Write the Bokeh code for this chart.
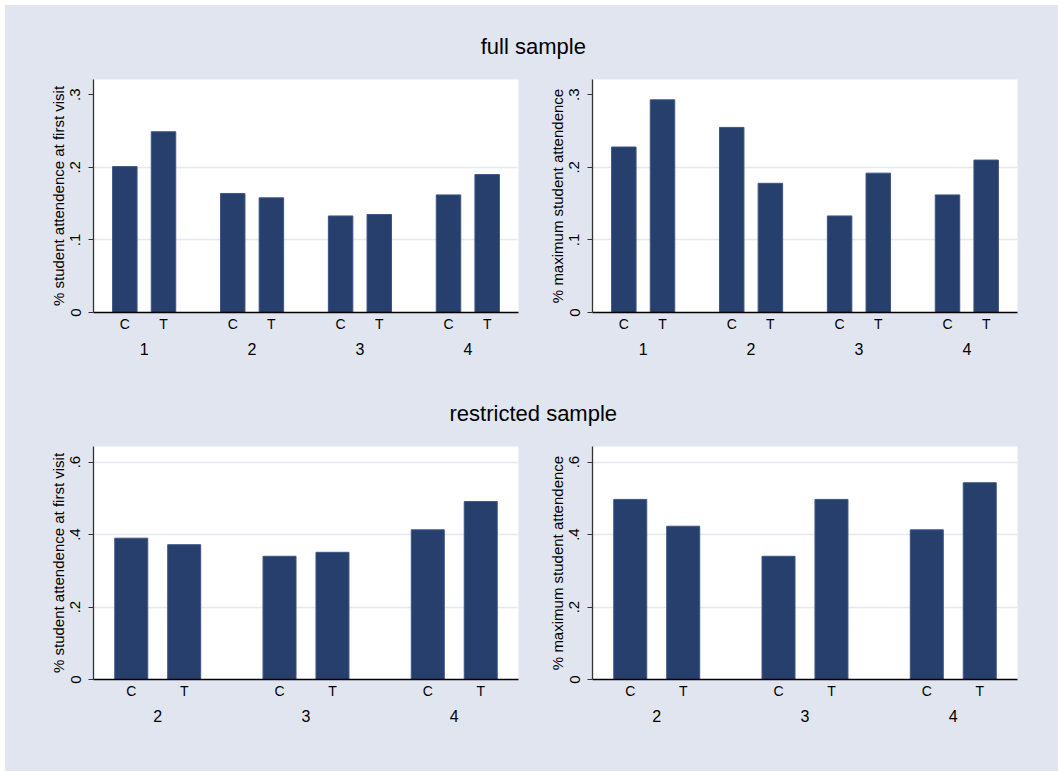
from bokeh.plotting import figure
from bokeh.models import FactorRange, Range1d, FixedTicker, ColumnDataSource, Label, CategoricalAxis
from bokeh.layouts import column, row
from bokeh.embed import file_html
from bokeh.resources import INLINE

# ---------------- data ----------------
arms = ["C", "T"]

groups_full = ["1", "2", "3", "4"]
first_visit_full_C = [0.201, 0.164, 0.133, 0.162]
first_visit_full_T = [0.249, 0.158, 0.135, 0.190]
maximum_full_C = [0.228, 0.255, 0.133, 0.162]
maximum_full_T = [0.293, 0.178, 0.192, 0.210]

groups_restricted = ["2", "3", "4"]
first_visit_restr_C = [0.390, 0.340, 0.413]
first_visit_restr_T = [0.372, 0.351, 0.491]
maximum_restr_C = [0.497, 0.340, 0.413]
maximum_restr_T = [0.423, 0.497, 0.543]

y_ticks_full = [0, 0.1, 0.2, 0.3]
y_tick_labels_full = ["0", ".1", ".2", ".3"]
grid_ticks_full = [0.1, 0.2]
y_ticks_restr = [0, 0.2, 0.4, 0.6]
y_tick_labels_restr = ["0", ".2", ".4", ".6"]
grid_ticks_restr = [0.2, 0.4, 0.6]

label_first = "% student attendence at first visit"
label_max = "% maximum student attendence"
title_full = "full sample"
title_restr = "restricted sample"

# ---------------- style ----------------
BG = "#E1E5EF"
BAR = "#263F6C"
BAR_EDGE = "#3E5583"
GRID = "#E4E8F1"
FONT = "Liberation Sans"
TOTAL_W = 1053


def panel(groups, c_vals, t_vals, ylabel, y_max, ticks, tick_labels, grid_ticks,
          width, left, right, height, bottom, group_pad, range_pad, bar_w):
    factors = [(g, a) for g in groups for a in arms]
    tops = []
    for c, t in zip(c_vals, t_vals):
        tops += [c, t]
    src = ColumnDataSource(dict(x=factors, top=tops))
    xr = FactorRange(*factors, factor_padding=0.0, group_padding=group_pad,
                     range_padding=range_pad, range_padding_units="absolute")
    p = figure(x_range=xr, y_range=Range1d(0, y_max), width=width, height=height,
               min_border_left=left, min_border_right=right, min_border_top=0,
               min_border_bottom=bottom, toolbar_location=None, output_backend="svg")

    # a flat range of the groups aligned with the group centres of the nested range
    spacing = 2 + group_pad                # nested distance between group centres
    flat_pad = 0.5
    k = (1 + flat_pad) / spacing
    p.extra_x_ranges = {"groups": FactorRange(*groups, factor_padding=flat_pad,
                                              range_padding=k * (range_pad + 1) - 0.5,
                                              range_padding_units="absolute")}

    p.vbar(x="x", top="top", width=bar_w, source=src, fill_color=BAR,
           line_color=BAR_EDGE, line_width=1)
    p.background_fill_color = "white"
    p.border_fill_color = BG
    p.outline_line_color = None
    p.xgrid.visible = False
    p.ygrid.ticker = FixedTicker(ticks=grid_ticks)
    p.ygrid.grid_line_color = GRID
    p.ygrid.grid_line_width = 1.5

    ya = p.yaxis[0]
    ya.ticker = FixedTicker(ticks=ticks)
    ya.major_label_overrides = {t: l for t, l in zip(ticks, tick_labels)}
    ya.major_label_orientation = "vertical"
    ya.major_label_text_font = FONT
    ya.major_label_text_font_size = "15px"
    ya.major_label_text_color = "black"
    ya.major_label_standoff = 8
    ya.major_tick_in = 0
    ya.major_tick_out = 5
    ya.minor_tick_in = 0
    ya.minor_tick_out = 0
    ya.axis_line_color = "#333333"
    ya.axis_line_width = 1.3
    ya.major_tick_line_color = "#333333"
    ya.axis_label = ylabel
    ya.axis_label_text_font = FONT
    ya.axis_label_text_font_size = "15px"
    ya.axis_label_text_font_style = "normal"
    ya.axis_label_text_color = "black"
    ya.axis_label_standoff = 1

    xa = p.xaxis[0]
    xa.axis_line_color = "black"
    xa.axis_line_width = 1.3
    xa.major_tick_line_color = None
    xa.major_tick_out = 0
    xa.major_tick_in = 0
    xa.minor_tick_line_color = None
    xa.minor_tick_out = 0
    xa.major_label_text_font = FONT
    xa.major_label_text_font_size = "14px"
    xa.major_label_text_color = "black"
    xa.major_label_standoff = 3
    xa.group_text_font_size = "1px"
    xa.group_text_alpha = 0
    xa.separator_line_color = None

    ga = CategoricalAxis(x_range_name="groups")
    ga.axis_line_color = None
    ga.major_tick_line_color = None
    ga.major_tick_out = 0
    ga.major_tick_in = 0
    ga.minor_tick_line_color = None
    ga.minor_tick_out = 0
    ga.major_label_text_font = FONT
    ga.major_label_text_font_size = "16px"
    ga.major_label_text_color = "black"
    ga.major_label_standoff = 8
    p.add_layout(ga, "below")
    return p


def title_fig(text, height, y_from_top):
    p = figure(width=TOTAL_W, height=height, x_range=Range1d(0, TOTAL_W), y_range=Range1d(0, height),
               x_axis_location=None, y_axis_location=None, toolbar_location=None,
               output_backend="svg", min_border=0)
    p.grid.visible = False
    p.outline_line_color = None
    p.background_fill_color = BG
    p.border_fill_color = BG
    p.add_layout(Label(x=527.8, y=height - y_from_top, x_units="screen", y_units="screen",
                       text=text, text_align="center", text_baseline="middle",
                       text_font=FONT, text_font_size="22px", text_color="black"))
    return p


p1 = panel(groups_full, first_visit_full_C, first_visit_full_T, label_first, 0.321,
           y_ticks_full, y_tick_labels_full, grid_ticks_full,
           540, 88, 27, 316, 83, 0.79, 0.31, 0.633)
p2 = panel(groups_full, maximum_full_C, maximum_full_T, label_max, 0.321,
           y_ticks_full, y_tick_labels_full, grid_ticks_full,
           513, 47, 41, 316, 83, 0.79, 0.31, 0.633)
p3 = panel(groups_restricted, first_visit_restr_C, first_visit_restr_T, label_first, 0.643,
           y_ticks_restr, y_tick_labels_restr, grid_ticks_restr,
           540, 88, 27, 325, 92, 0.80, 0.213, 0.623)
p4 = panel(groups_restricted, maximum_restr_C, maximum_restr_T, label_max, 0.643,
           y_ticks_restr, y_tick_labels_restr, grid_ticks_restr,
           513, 47, 41, 325, 92, 0.80, 0.213, 0.623)

t1 = title_fig(title_full, 74, 41)
t2 = title_fig(title_restr, 51, 18)

bgstyle = {"background-color": BG}
r1 = row(p1, p2, spacing=0, styles=bgstyle)
r2 = row(p3, p4, spacing=0, styles=bgstyle)
layout = column(t1, r1, t2, r2, spacing=0, styles=bgstyle, margin=(5, 0, 0, 5))

open("out.html", "w").write(file_html(layout, INLINE))
